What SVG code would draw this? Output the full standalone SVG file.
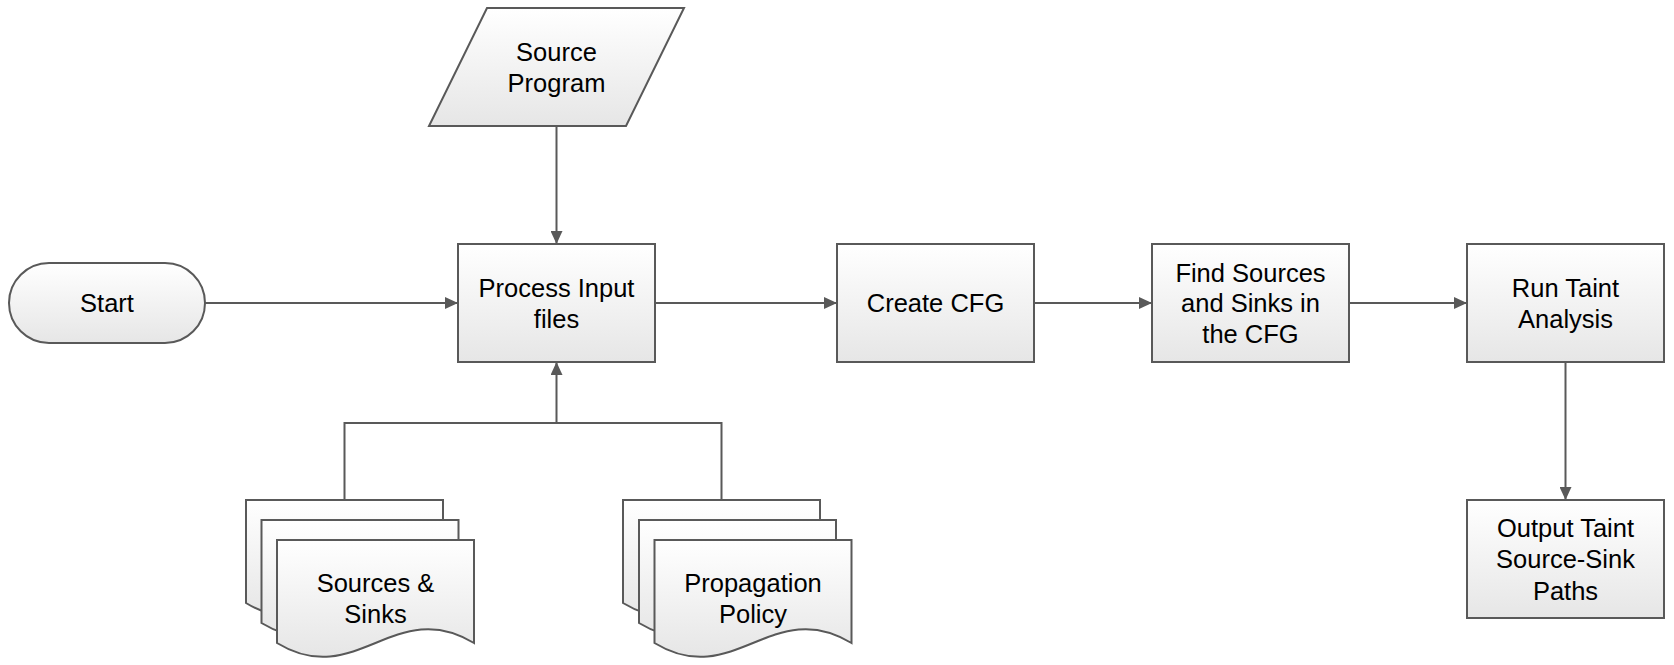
<svg xmlns="http://www.w3.org/2000/svg" width="1674" height="665" viewBox="0 0 1674 665">
<defs>
<linearGradient id="g" x1="0" y1="0" x2="0" y2="1">
<stop offset="0" stop-color="#ffffff"/>
<stop offset="1" stop-color="#e6e6e6"/>
</linearGradient>
<marker id="arr" markerUnits="userSpaceOnUse" markerWidth="14" markerHeight="12" refX="13" refY="6" orient="auto">
<path d="M0,0 L13,6 L0,12 z" fill="#595959"/>
</marker>
<style>
.s{fill:url(#g);stroke:#595959;stroke-width:2}
.t{font-family:"Liberation Sans",Arial,sans-serif;font-size:25.5px;fill:#000;text-anchor:middle}
.c{fill:none;stroke:#595959;stroke-width:2}
.a{marker-end:url(#arr)}
</style>
</defs>
<rect width="1674" height="665" fill="#ffffff"/>
<g id="connectors">
<path class="c a" d="M556.5,126 V244"/>
<path class="c a" d="M205,303 H458"/>
<path class="c a" d="M655,303 H837"/>
<path class="c a" d="M1034,303 H1152"/>
<path class="c a" d="M1349,303 H1467"/>
<path class="c a" d="M1565.5,362 V500"/>
<path class="c a" d="M344.5,500 V423 H556.5 V362"/>
<path class="c" d="M721.5,500 V423 H556.5"/>
</g>
<g id="source-program">
<polygon class="s" points="487,8 684,8 626,126 429,126"/>
<text class="t" x="556.5" y="61">Source</text>
<text class="t" x="556.5" y="92">Program</text>
</g>
<g id="start">
<rect class="s" x="9" y="263" width="196" height="80" rx="40" ry="40"/>
<text class="t" x="107" y="312">Start</text>
</g>
<g id="process-input">
<rect class="s" x="458" y="244" width="197" height="118"/>
<text class="t" x="556.5" y="297">Process Input</text>
<text class="t" x="556.5" y="328">files</text>
</g>
<g id="create-cfg">
<rect class="s" x="837" y="244" width="197" height="118"/>
<text class="t" x="935.5" y="312">Create CFG</text>
</g>
<g id="find-sources">
<rect class="s" x="1152" y="244" width="197" height="118"/>
<text class="t" x="1250.5" y="282">Find Sources</text>
<text class="t" x="1250.5" y="312">and Sinks in</text>
<text class="t" x="1250.5" y="343">the CFG</text>
</g>
<g id="run-taint">
<rect class="s" x="1467" y="244" width="197" height="118"/>
<text class="t" x="1565.5" y="297">Run Taint</text>
<text class="t" x="1565.5" y="328">Analysis</text>
</g>
<g id="output-paths">
<rect class="s" x="1467" y="500" width="197" height="118"/>
<text class="t" x="1565.5" y="537">Output Taint</text>
<text class="t" x="1565.5" y="568">Source-Sink</text>
<text class="t" x="1565.5" y="600">Paths</text>
</g>
<g id="sources-sinks">
<path class="s" d="M246,500 H443 V603 C364.2,555 324.8,651 246,603 Z"/>
<path class="s" d="M261.5,520 H458.5 V623 C379.7,575 340.3,671 261.5,623 Z"/>
<path class="s" d="M277,540 H474 V643 C395.2,595 355.8,691 277,643 Z"/>
<text class="t" x="375.5" y="592">Sources &amp;</text>
<text class="t" x="375.5" y="623">Sinks</text>
</g>
<g id="propagation-policy">
<path class="s" d="M623,500 H820 V603 C741.2,555 701.8,651 623,603 Z"/>
<path class="s" d="M639,520 H836 V623 C757.2,575 717.8,671 639,623 Z"/>
<path class="s" d="M654.5,540 H851.5 V643 C772.7,595 733.3,691 654.5,643 Z"/>
<text class="t" x="753" y="592">Propagation</text>
<text class="t" x="753" y="623">Policy</text>
</g>
</svg>
